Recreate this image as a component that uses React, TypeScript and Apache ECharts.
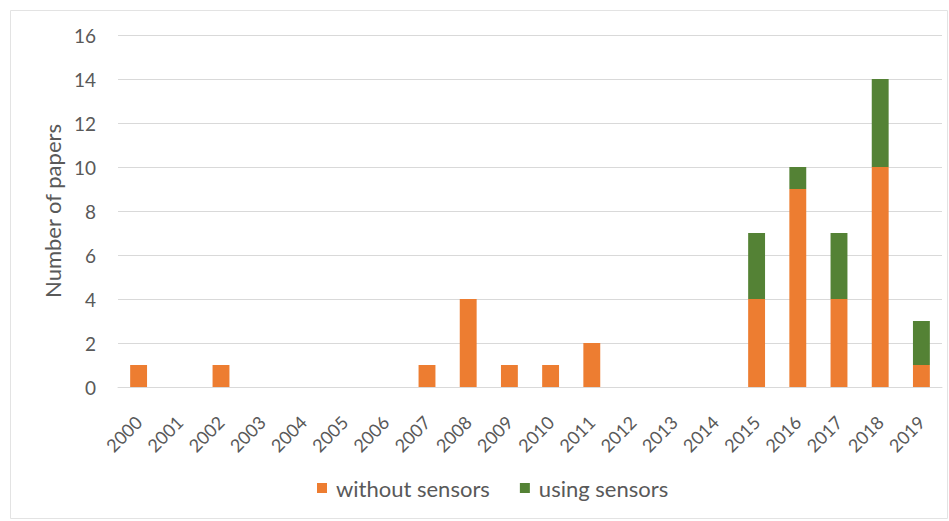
import React, { useEffect, useRef } from "react";
import * as echarts from "echarts";

const years = [
  "2000", "2001", "2002", "2003", "2004", "2005", "2006", "2007", "2008", "2009",
  "2010", "2011", "2012", "2013", "2014", "2015", "2016", "2017", "2018", "2019",
];
const withoutSensors = [1, 0, 1, 0, 0, 0, 0, 1, 4, 1, 1, 2, 0, 0, 0, 4, 9, 4, 10, 1];
const usingSensors = [0, 0, 0, 0, 0, 0, 0, 0, 0, 0, 0, 0, 0, 0, 0, 3, 1, 3, 4, 2];
const seriesNames = ["without sensors", "using sensors"];
const yAxisName = "Number of papers";

const FONT = "Lato, 'Open Sans', sans-serif";
const TEXT = "#595959";

export default function App() {
  const ref = useRef<HTMLDivElement>(null);
  useEffect(() => {
    if (!ref.current) return;
    const chart = echarts.init(ref.current, undefined, { renderer: "svg" });
    chart.setOption({
      animation: false,
      backgroundColor: "#ffffff",
      textStyle: { fontFamily: FONT },
      graphic: [
        {
          type: "rect",
          shape: { x: 10.5, y: 10.5, width: 937, height: 508 },
          style: { fill: "none", stroke: "#e3e3e3", lineWidth: 1 },
          silent: true,
        },
      ],
      grid: { left: 118, right: 7, top: 35, bottom: 134 },
      legend: {
        bottom: 17,
        left: 312,
        itemWidth: 10,
        itemHeight: 10,
        itemGap: 30,
        icon: "rect",
        textStyle: {
          color: TEXT,
          fontSize: 22,
          fontFamily: FONT,
          padding: [0, 0, 0, 4],
        },
        data: seriesNames,
      },
      xAxis: {
        type: "category",
        data: years,
        axisLine: { show: true, lineStyle: { color: "#d9d9d9", width: 1 } },
        axisTick: { show: false },
        axisLabel: {
          rotate: 45,
          color: TEXT,
          fontSize: 18,
          fontFamily: FONT,
          margin: 32,
          interval: 0,
        },
      },
      yAxis: {
        type: "value",
        min: 0,
        max: 16,
        interval: 2,
        name: yAxisName,
        nameLocation: "middle",
        nameGap: 55,
        nameTextStyle: { color: TEXT, fontSize: 22, fontFamily: FONT },
        axisLine: { show: false },
        axisTick: { show: false },
        axisLabel: { color: TEXT, fontSize: 19, fontFamily: FONT, margin: 22 },
        splitLine: { lineStyle: { color: "#d9d9d9", width: 1 } },
      },
      series: [
        {
          name: seriesNames[0],
          type: "bar",
          stack: "total",
          barWidth: "41%",
          itemStyle: { color: "#ED7D31" },
          data: withoutSensors,
        },
        {
          name: seriesNames[1],
          type: "bar",
          stack: "total",
          barWidth: "41%",
          itemStyle: { color: "#548235" },
          data: usingSensors,
        },
      ],
    });
    return () => chart.dispose();
  }, []);
  return (
    <div
      ref={ref}
      style={{ position: "fixed", left: 0, top: 0, width: 949, height: 521 }}
    />
  );
}
